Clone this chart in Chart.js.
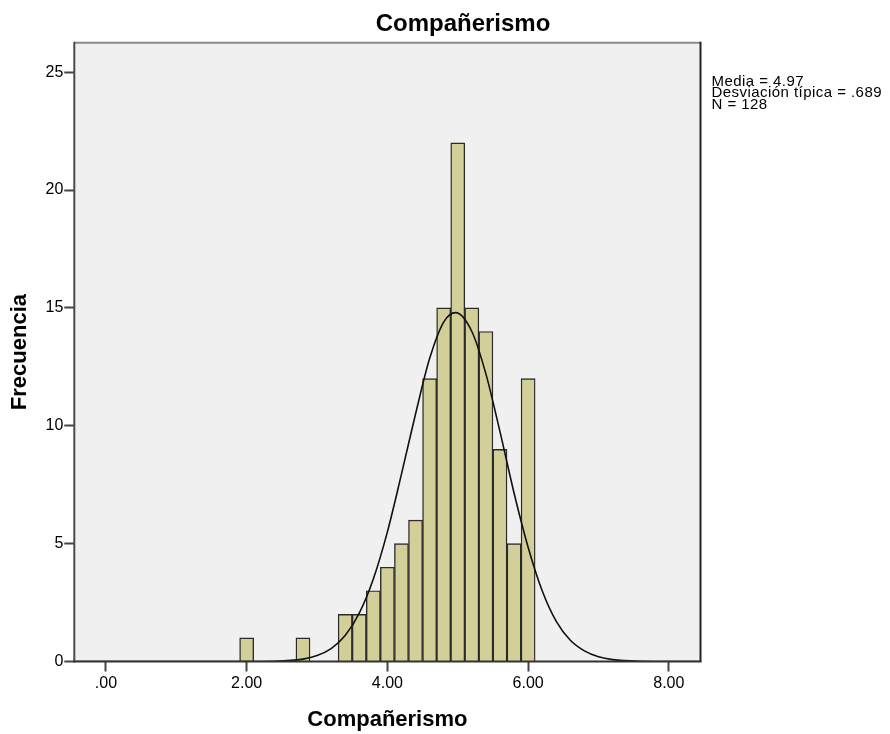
<!DOCTYPE html>
<html>
<head>
<meta charset="utf-8">
<title>Compañerismo</title>
<script src="https://cdn.jsdelivr.net/npm/chart.js@4.4.1/dist/chart.umd.min.js"></script>
<style>
  html, body { margin: 0; padding: 0; background: #fff; }
  #chart { display: block; }
</style>
</head>
<body>
<canvas id="chart" width="890" height="734"></canvas>
<script>
'use strict';

// ── DATA ─────────────────────────────────────────────────────

const BIN_CENTERS = [2.0, 2.8, 3.4, 3.6, 3.8, 4.0, 4.2, 4.4, 4.6, 4.8, 5.0, 5.2, 5.4, 5.6, 5.8, 6.0];
const BIN_COUNTS  = [1,   1,   2,   2,   3,   4,   5,   6,   12,  15,  22,  15,  14,  9,   5,   12];

// normal curve (peak ~14.8 at 4.97)
const CURVE_X = [-0.45, 1.0, 2.0, 2.4, 2.8, 3.0, 3.2, 3.4, 3.6, 3.8, 4.0, 4.2, 4.4, 4.6, 4.8, 4.97,
                 5.2, 5.4, 5.6, 5.8, 6.0, 6.2, 6.4, 6.6, 6.8, 7.0, 7.2, 7.6, 8.0, 8.45];
const CURVE_Y = [0, 0, 0, 0.01, 0.10, 0.25, 0.55, 1.1, 2.05, 3.5, 5.5, 7.95, 10.5, 12.85, 14.4, 14.8,
                 14.0, 12.2, 9.75, 7.15, 4.85, 3.0, 1.7, 0.9, 0.45, 0.2, 0.08, 0.01, 0, 0];

const X_TICKS       = [0, 2, 4, 6, 8];
const X_TICK_LABELS = ['.00', '2.00', '4.00', '6.00', '8.00'];
const Y_TICKS       = [0, 5, 10, 15, 20, 25];

const TITLE       = 'Compañerismo';
const X_TITLE     = 'Compañerismo';
const Y_TITLE     = 'Frecuencia';
const STATS_LINES = ['Media = 4.97', 'Desviación típica = .689', 'N = 128'];

// ── LOOK ─────────────────────────────────────────────────────

const FONT = '"Liberation Sans", Arial, sans-serif';
const PLOT_BG = '#f0f0f0';
const BAR_FILL = '#d3cf98';

Chart.defaults.font.family = FONT;
Chart.defaults.color = '#000';

function text(ctx, str, x, y, font, align, spacing) {
  ctx.save();
  ctx.font = font;
  ctx.fillStyle = '#000';
  ctx.textAlign = align;
  ctx.textBaseline = 'alphabetic';
  ctx.letterSpacing = spacing || '0px';
  ctx.fillText(str, x, y);
  ctx.restore();
}

// background, frame and the SPSS-style texts
const decor = {
  id: 'decor',
  beforeDraw(chart) {
    const { ctx, chartArea: a } = chart;
    ctx.save();
    ctx.fillStyle = PLOT_BG;
    ctx.fillRect(a.left, a.top, a.right - a.left, a.bottom - a.top);
    ctx.restore();
  },
  afterDraw(chart) {
    const { ctx, chartArea: a } = chart;
    ctx.save();
    ctx.lineWidth = 2;
    const seg = (c, x1, y1, x2, y2) => {
      ctx.strokeStyle = c;
      ctx.beginPath(); ctx.moveTo(x1, y1); ctx.lineTo(x2, y2); ctx.stroke();
    };
    seg('#8a8a8a', a.left, a.top, a.right, a.top);
    seg('#222',    a.right, a.top - 1, a.right, a.bottom);
    seg('#4a4a4a', a.left, a.top - 1, a.left, a.bottom + 1);
    seg('#333',    a.left - 1, a.bottom, a.right + 1, a.bottom);
    ctx.restore();

    text(ctx, TITLE, 463, 31, 'bold 24px ' + FONT, 'center');
    text(ctx, X_TITLE, (a.left + a.right) / 2, 726, 'bold 22px ' + FONT, 'center');

    ctx.save();
    ctx.translate(26, (a.top + a.bottom) / 2);
    ctx.rotate(-Math.PI / 2);
    text(ctx, Y_TITLE, 0, 0, 'bold 22px ' + FONT, 'center');
    ctx.restore();

    STATS_LINES.forEach((s, i) => {
      text(ctx, s, 711.5, 85.5 + i * 11.5, '15px ' + FONT, 'left', '0.45px');
    });
  }
};

// ── CHART ────────────────────────────────────────────────────

const TICK_GRID = {
  drawOnChartArea: false,
  drawTicks: true,
  tickLength: 10,
  tickWidth: 2,
  tickColor: '#444',
  offset: false
};

new Chart(document.getElementById('chart'), {
  type: 'bar',
  data: {
    datasets: [
      {
        type: 'line',
        data: CURVE_X.map((x, i) => ({ x, y: CURVE_Y[i] })),
        borderColor: '#111',
        borderWidth: 1.6,
        pointRadius: 0,
        fill: false,
        cubicInterpolationMode: 'monotone',
        order: 0
      },
      {
        type: 'bar',
        data: BIN_CENTERS.map((x, i) => ({ x, y: BIN_COUNTS[i] })),
        backgroundColor: BAR_FILL,
        borderColor: '#2a2a2a',
        borderWidth: 1.4,
        barPercentage: 1,
        categoryPercentage: 1,
        order: 1
      }
    ]
  },
  options: {
    responsive: false,
    animation: false,
    events: [],
    layout: { padding: { left: 0, top: 42.7, right: 890 - 700.5, bottom: 0 } },
    plugins: {
      legend: { display: false },
      tooltip: { enabled: false },
      title: { display: false }
    },
    scales: {
      x: {
        type: 'linear',
        offset: false,
        min: -0.45,
        max: 8.45,
        afterBuildTicks: s => { s.ticks = X_TICKS.map(v => ({ value: v })); },
        afterFit: s => { s.height = 734 - 661.5; },
        grid: TICK_GRID,
        border: { display: false },
        ticks: {
          autoSkip: false,
          maxRotation: 0,
          padding: 2,
          color: '#000',
          font: { size: 16 },
          callback: (v, i) => X_TICK_LABELS[i]
        }
      },
      y: {
        min: 0,
        max: 26.25,
        afterBuildTicks: s => { s.ticks = Y_TICKS.map(v => ({ value: v })); },
        afterFit: s => { s.width = 74.3; },
        grid: TICK_GRID,
        border: { display: false },
        ticks: {
          padding: 1,
          color: '#000',
          font: { size: 16 },
          callback: v => String(v)
        }
      }
    }
  },
  plugins: [decor]
});
</script>
</body>
</html>
